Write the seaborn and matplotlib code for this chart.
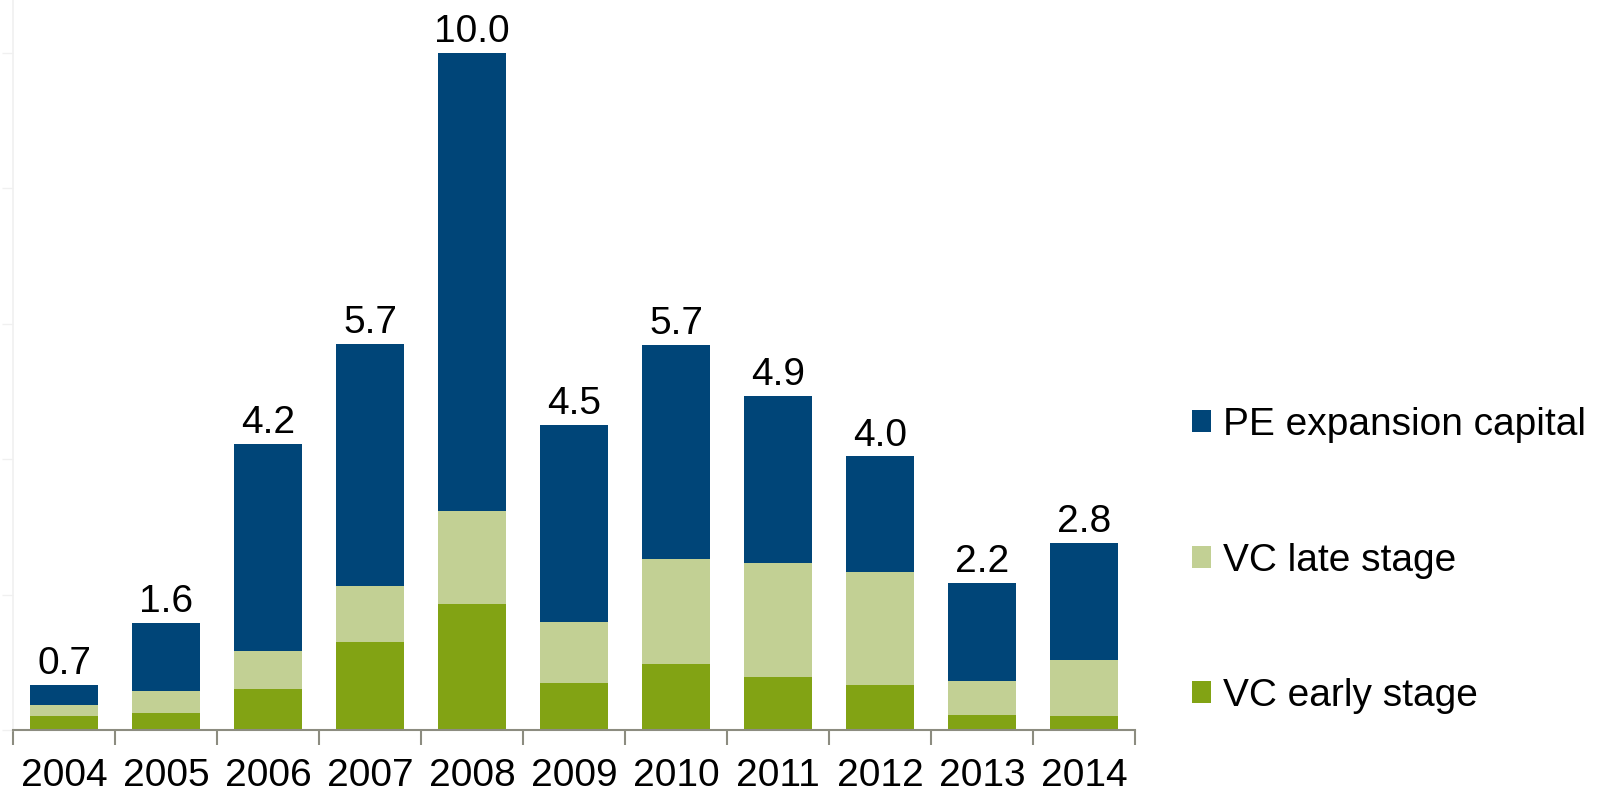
import matplotlib
matplotlib.use("Agg")
import matplotlib.pyplot as plt
from matplotlib.patches import Patch
import seaborn as sns
import pandas as pd
import numpy as np

years = ["2004", "2005", "2006", "2007", "2008", "2009", "2010", "2011", "2012", "2013", "2014"]
vc_early = [0.20, 0.25, 0.60, 1.30, 1.86, 0.70, 0.97, 0.79, 0.67, 0.22, 0.20]
vc_late = [0.17, 0.33, 0.57, 0.82, 1.37, 0.89, 1.56, 1.67, 1.67, 0.51, 0.83]
pe_expansion = [0.30, 1.00, 3.05, 3.58, 6.77, 2.92, 3.16, 2.47, 1.70, 1.44, 1.73]
series_names = ["PE expansion capital", "VC late stage", "VC early stage"]

c_pe = "#004578"
c_late = "#c2d094"
c_early = "#82a314"

sns.set_style("white")
plt.rcParams["font.family"] = ["Liberation Sans", "DejaVu Sans"]
plt.rcParams["text.color"] = "black"
plt.rcParams["xtick.color"] = "black"

df = pd.DataFrame({"year": years, "early": vc_early, "late": vc_late, "pe": pe_expansion})
df["cum_late"] = df["early"] + df["late"]
df["total"] = df["cum_late"] + df["pe"]

fig = plt.figure(figsize=(16.1, 7.95), dpi=100)
ax = fig.add_axes([13 / 1610, 65 / 795, 1122 / 1610, 730 / 795])

bw = 0.67
sns.barplot(data=df, x="year", y="total", color=c_pe, width=bw, saturation=1, linewidth=0, ax=ax)
sns.barplot(data=df, x="year", y="cum_late", color=c_late, width=bw, saturation=1, linewidth=0, ax=ax)
sns.barplot(data=df, x="year", y="early", color=c_early, width=bw, saturation=1, linewidth=0, ax=ax)

fs = 28
ax.bar_label(ax.containers[0], labels=[f"{v:.1f}" for v in df["total"]], padding=2, fontsize=fs, color="black")

ax.set_xlim(-0.5, len(years) - 0.5)
ax.set_ylim(0, 10.78)
ax.set_xlabel("")
ax.set_ylabel("")

ax.set_yticks([0, 2, 4, 6, 8, 10])
ax.set_yticklabels([])
ax.tick_params(axis="y", which="major", left=True, length=8, width=1, color="#f0f0f0", direction="out")

ax.set_xticks(np.arange(len(years)))
ax.set_xticklabels(years, fontsize=fs, color="black")
ax.tick_params(axis="x", which="major", length=0, pad=20)
ax.set_xticks(np.arange(-0.5, len(years), 1.0), minor=True)
ax.tick_params(axis="x", which="minor", bottom=True, length=11, width=1.5, color="#8c8c80", direction="out")

for s in ["top", "right"]:
    ax.spines[s].set_visible(False)
ax.spines["left"].set_color("#f0f0f0")
ax.spines["left"].set_linewidth(1.2)
ax.spines["bottom"].set_color("#8c8c80")
ax.spines["bottom"].set_linewidth(1.5)

handles = [Patch(facecolor=c_pe, edgecolor="none"),
           Patch(facecolor=c_late, edgecolor="none"),
           Patch(facecolor=c_early, edgecolor="none")]
leg = fig.legend(handles, series_names, loc="upper left",
                 bbox_to_anchor=(1192 / 1610, 1 - 407 / 795), bbox_transform=fig.transFigure,
                 frameon=False, fontsize=fs, handlelength=0.49, handleheight=0.49,
                 handletextpad=0.3, borderpad=0, borderaxespad=0, labelspacing=2.56)
for t in leg.get_texts():
    t.set_color("black")

fig.savefig("out.png", dpi=100)
